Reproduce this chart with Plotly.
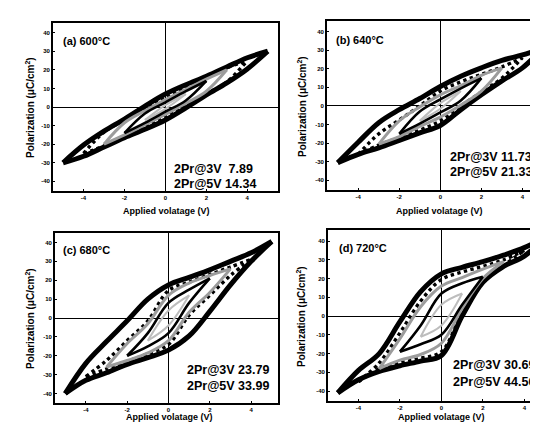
import plotly.graph_objects as go

W, H = 538, 422
FONT = "Liberation Sans"

# ---------------- tick labels / texts ----------------
X_TICKS = [-4, -2, 0, 2, 4]
X_TICK_TEXT = ["-4", "-2", "0", "2", "4"]
Y_TICKS = [40, 30, 20, 10, 0, -10, -20, -30, -40]
Y_TICK_TEXT = ["40", "30", "20", "10", "0", "-10", "-20", "-30", "-40"]

PANEL_LABELS = ["(a) 600°C", "(b) 640°C", "(c) 680°C", "(d) 720°C"]
PR2_3V = ["7.89", "11.73", "23.79", "30.69"]
PR2_5V = ["14.34", "21.33", "33.99", "44.56"]

X_TITLE = "Applied volatage (V)"
Y_TITLE = "Polarization (μC/cm<sup>2</sup>)"

# ---------------- voltage grids (V, ascending) ----------------
V_5 = [-5, -4, -3, -2, -1, 0, 1, 2, 3, 4, 5]
V_4 = [-4, -3, -2, -1, 0, 1, 2, 3, 4]
V_3 = [-3, -2, -1, 0, 1, 2, 3]
V_2 = [-2, -1, 0, 1, 2]
V_1 = [-1, 0, 1]

# ---------------- (a) 600 C : polarization (uC/cm2) ----------------
A_5V_UP = [-30, -20.5, -13, -6.5, 0.5, 7, 12, 16.5, 21.5, 26.5, 30]
A_5V_LO = [-30, -26.5, -21.5, -16.5, -12, -7, -0.5, 6.5, 13, 20.5, 30]
A_4V_UP = [-25, -13.5, -7, -0.5, 5.5, 11, 16, 21, 25]
A_4V_LO = [-25, -21, -16, -11, -5.5, 0.5, 7, 13.5, 25]
A_3V_UP = [-20, -8.5, -2, 4, 9.5, 15, 20]
A_3V_LO = [-20, -15, -9.5, -4, 2, 8.5, 20]
A_2V_UP = [-14, -3.5, 2.5, 8.5, 14]
A_2V_LO = [-14, -8.5, -2.5, 3.5, 14]
A_1V_UP = [-7, 1, 7]
A_1V_LO = [-7, -1, 7]

# ---------------- (b) 640 C ----------------
B_5V_UP = [-30.5, -19.5, -9, -2, 4, 10.5, 16, 20.5, 24.5, 27.5, 31]
B_5V_LO = [-30.5, -26, -22.5, -18.5, -14.5, -10.5, -2, 6, 13.5, 20.5, 31]
B_4V_UP = [-26, -15, -7.5, 0, 8, 13, 17, 21, 26]
B_4V_LO = [-26, -21, -17, -13, -8, 0, 7.5, 15, 26]
B_3V_UP = [-20.5, -8, -0.5, 6, 11, 16.5, 20.5]
B_3V_LO = [-20.5, -16.5, -11, -6, 0.5, 8, 20.5]
B_2V_UP = [-15, -3, 3.5, 9.5, 15]
B_2V_LO = [-15, -9.5, -3.5, 3, 15]
B_1V_UP = [-8, 1.5, 8]
B_1V_LO = [-8, -1.5, 8]

# ---------------- (c) 680 C ----------------
C_5V_UP = [-40, -24, -12.5, -1.5, 10, 17.5, 21.5, 25.5, 30, 34.5, 40.5]
C_5V_LO = [-40, -33, -29, -24.5, -21, -17, -9.5, 3.5, 17.5, 30, 40.5]
C_4V_UP = [-31, -22.5, -12, -1.5, 14.5, 19, 23, 27, 31]
C_4V_LO = [-31, -27, -23, -19, -14, 1.5, 12, 22.5, 31]
C_3V_UP = [-26, -13.5, -3, 12, 18.5, 22.5, 26]
C_3V_LO = [-26, -22.5, -18.5, -12, 3, 13.5, 26]
C_2V_UP = [-20, -8, 8, 15, 21]
C_2V_LO = [-20, -15, -8, 8, 21]
C_1V_UP = [-12, 4, 12]
C_1V_LO = [-12, -4, 12]

# ---------------- (d) 720 C ----------------
D_5V_UP = [-41, -29, -20, -3, 13, 22.5, 26, 29, 32.5, 36.5, 42]
D_5V_LO = [-41, -34, -29.5, -26.5, -24, -21, 0, 18, 26.5, 32, 42]
D_4V_UP = [-35, -25, -9, 8, 19.5, 23.5, 26.5, 30, 35]
D_4V_LO = [-35, -28, -25, -22.5, -19, 2, 19, 27, 35]
D_3V_UP = [-28, -12, 5, 16, 20.5, 25, 29]
D_3V_LO = [-28, -23.5, -20.5, -14.5, 4, 20, 29]
D_2V_UP = [-19, -5, 12, 17.5, 21]
D_2V_LO = [-19, -15, -10, 6, 21]
D_1V_UP = [-11, 6, 12]
D_1V_LO = [-11, -5, 12]

PANELS = [
    {5: (A_5V_UP, A_5V_LO), 4: (A_4V_UP, A_4V_LO), 3: (A_3V_UP, A_3V_LO),
     2: (A_2V_UP, A_2V_LO), 1: (A_1V_UP, A_1V_LO)},
    {5: (B_5V_UP, B_5V_LO), 4: (B_4V_UP, B_4V_LO), 3: (B_3V_UP, B_3V_LO),
     2: (B_2V_UP, B_2V_LO), 1: (B_1V_UP, B_1V_LO)},
    {5: (C_5V_UP, C_5V_LO), 4: (C_4V_UP, C_4V_LO), 3: (C_3V_UP, C_3V_LO),
     2: (C_2V_UP, C_2V_LO), 1: (C_1V_UP, C_1V_LO)},
    {5: (D_5V_UP, D_5V_LO), 4: (D_4V_UP, D_4V_LO), 3: (D_3V_UP, D_3V_LO),
     2: (D_2V_UP, D_2V_LO), 1: (D_1V_UP, D_1V_LO)},
]
VGRID = {5: V_5, 4: V_4, 3: V_3, 2: V_2, 1: V_1}
DRAW_ORDER = [5, 4, 3, 1, 2]
STYLE = {
    5: dict(color="black", width=5, dash="solid"),
    4: dict(color="black", width=3.4, dash="dot"),
    3: dict(color="#9c9c9c", width=3, dash="solid"),
    2: dict(color="black", width=2.6, dash="solid"),
    1: dict(color="#bdbdbd", width=2, dash="solid"),
}

# ---------------- layout geometry (pixels) ----------------
# plot areas: (left, right, top, bottom)
BOXES = [(45, 271, 15, 183), (320, 538, 13, 182), (47, 271, 225, 395), (321, 538, 222, 393)]
XRANGES = [[-5.5, 5.5], [-5.53, 5.05], [-5.5, 5.3], [-5.48, 4.95]]
YRANGES = [[-45.2, 45.2], [-45.2, 45.7], [-45, 45], [-45.3, 45.9]]

fig = go.Figure()

for i, loops in enumerate(PANELS):
    sfx = "" if i == 0 else str(i + 1)
    for amp in DRAW_ORDER:
        up, lo = loops[amp]
        st = STYLE[amp]
        for branch in (up, lo):
            fig.add_trace(go.Scatter(
                x=VGRID[amp], y=branch, mode="lines",
                line=dict(color=st["color"], width=st["width"], dash=st["dash"],
                          shape="spline", smoothing=1.0),
                xaxis="x" + sfx, yaxis="y" + sfx, showlegend=False,
                hoverinfo="skip"))

axis_common = dict(showline=True, mirror=True, linecolor="black", linewidth=1.5,
                   showgrid=False, zeroline=True, zerolinecolor="black",
                   zerolinewidth=1.2, ticks="inside", ticklen=2, tickwidth=1,
                   tickcolor="black",
                   tickfont=dict(family=FONT, size=6, color="black", weight="bold"))

layout = dict(width=W, height=H, margin=dict(l=0, r=0, t=0, b=0),
              paper_bgcolor="white", plot_bgcolor="white", showlegend=False)

for i, (l, r, t, b) in enumerate(BOXES):
    sfx = "" if i == 0 else str(i + 1)
    layout["xaxis" + sfx] = dict(domain=[l / W, min(r / W, 1.0)], range=XRANGES[i],
                                 anchor="y" + sfx, tickvals=X_TICKS, ticktext=X_TICK_TEXT,
                                 **axis_common)
    layout["yaxis" + sfx] = dict(domain=[1 - b / H, 1 - t / H], range=YRANGES[i],
                                 anchor="x" + sfx, tickvals=Y_TICKS, ticktext=Y_TICK_TEXT,
                                 **axis_common)

fig.update_layout(**layout)

# ---------------- annotations ----------------
def px(x, y):
    return x / W, 1 - y / H

ann = []
LABEL_POS = [(53, 33), (327, 32), (53, 242), (330, 240)]
XT_POS = [(159, 203), (433, 203), (162, 409), (435, 409)]
YT_POS = [(22, 99), (295, 98), (22, 310), (294, 308)]
PR_POS = [((166, 161), (166, 176)), ((443, 149), (443, 164)),
          ((179, 362), (179, 378)), ((446, 357), (446, 374))]
PR_SEP = ["  ", " ", " ", " "]

for i in range(4):
    x, y = px(*LABEL_POS[i])
    ann.append(dict(x=x, y=y, xref="paper", yref="paper", text=PANEL_LABELS[i],
                    showarrow=False, xanchor="left", yanchor="middle",
                    font=dict(family=FONT, size=11, color="black", weight="bold")))
    x, y = px(*XT_POS[i])
    ann.append(dict(x=x, y=y, xref="paper", yref="paper", text=X_TITLE,
                    showarrow=False, xanchor="center", yanchor="middle",
                    font=dict(family=FONT, size=9, color="black", weight="bold")))
    x, y = px(*YT_POS[i])
    ann.append(dict(x=x, y=y, xref="paper", yref="paper", text=Y_TITLE, textangle=-90,
                    showarrow=False, xanchor="center", yanchor="middle",
                    font=dict(family=FONT, size=10, color="black", weight="bold")))
    (x1, y1), (x2, y2) = PR_POS[i]
    rows = (((x1, y1), "2Pr@3V" + PR_SEP[i] + PR2_3V[i]),
            ((x2, y2), "2Pr@5V " + PR2_5V[i]))
    for (xx, yy), txt in rows:
        x, y = px(xx, yy)
        ann.append(dict(x=x, y=y, xref="paper", yref="paper", text=txt,
                        showarrow=False, xanchor="left", yanchor="middle", borderpad=0,
                        font=dict(family=FONT, size=12.5, color="black", weight="bold")))

fig.update_layout(annotations=ann)
fig.write_html("out.html")
